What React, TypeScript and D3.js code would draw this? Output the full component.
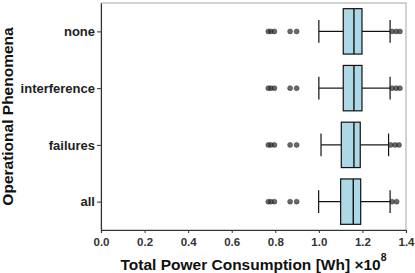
import React, { useEffect, useRef } from "react";
import * as d3 from "d3";

// categories top to bottom
const categories = ["none", "interference", "failures", "all"];
// box stats in units of 1e8 Wh
const whiskerLow = [1.0, 1.0, 1.01, 0.999];
const q1 = [1.112, 1.112, 1.103, 1.1];
const medians = [1.161, 1.161, 1.161, 1.158];
const q3 = [1.198, 1.198, 1.19, 1.192];
const whiskerHigh = [1.327, 1.327, 1.32, 1.327];
const outliers = [
  [0.768, 0.78, 0.796, 0.868, 0.898, 1.336, 1.355, 1.372],
  [0.768, 0.78, 0.796, 0.868, 0.898, 1.336, 1.355, 1.372],
  [0.768, 0.78, 0.796, 0.868, 0.898, 1.33, 1.35, 1.368],
  [0.768, 0.78, 0.796, 0.868, 0.898, 1.336, 1.357],
];
const xTicks = [0, 0.2, 0.4, 0.6, 0.8, 1.0, 1.2, 1.4];

const W = 415,
  H = 273;

const App = () => {
  const ref = useRef<SVGSVGElement>(null);

  useEffect(() => {
    const svg = d3.select(ref.current);
    svg.selectAll("*").remove();

    const left = 101,
      right = 406,
      top = 3,
      bottom = 230;
    const font = "'Liberation Sans', Arial, sans-serif";

    const x = d3.scaleLinear().domain([0, 1.4]).range([left, right]);
    const y = d3
      .scalePoint<string>()
      .domain(categories)
      .range([top, bottom])
      .padding(0.5);
    const boxH = y.step() * 0.8;
    const capH = y.step() * 0.4;

    // panel border
    svg
      .append("rect")
      .attr("x", left)
      .attr("y", top)
      .attr("width", right - left)
      .attr("height", bottom - top)
      .attr("fill", "none")
      .attr("stroke", "#a6a6a6")
      .attr("stroke-width", 1);

    const g = svg
      .selectAll("g.box")
      .data(categories)
      .join("g")
      .attr("class", "box");

    g.append("line")
      .attr("x1", (_, i) => x(whiskerLow[i]))
      .attr("x2", (_, i) => x(q1[i]))
      .attr("y1", (d) => y(d)!)
      .attr("y2", (d) => y(d)!)
      .attr("stroke", "#111")
      .attr("stroke-width", 1.2);
    g.append("line")
      .attr("x1", (_, i) => x(q3[i]))
      .attr("x2", (_, i) => x(whiskerHigh[i]))
      .attr("y1", (d) => y(d)!)
      .attr("y2", (d) => y(d)!)
      .attr("stroke", "#111")
      .attr("stroke-width", 1.2);
    // caps
    [whiskerLow, whiskerHigh].forEach((arr) => {
      g.append("line")
        .attr("x1", (_, i) => x(arr[i]))
        .attr("x2", (_, i) => x(arr[i]))
        .attr("y1", (d) => y(d)! - capH / 2)
        .attr("y2", (d) => y(d)! + capH / 2)
        .attr("stroke", "#111")
        .attr("stroke-width", 1.2);
    });
    g.append("rect")
      .attr("x", (_, i) => x(q1[i]))
      .attr("width", (_, i) => x(q3[i]) - x(q1[i]))
      .attr("y", (d) => y(d)! - boxH / 2)
      .attr("height", boxH)
      .attr("fill", "#add8e6")
      .attr("stroke", "#111")
      .attr("stroke-width", 1.2);
    g.append("line")
      .attr("x1", (_, i) => x(medians[i]))
      .attr("x2", (_, i) => x(medians[i]))
      .attr("y1", (d) => y(d)! - boxH / 2)
      .attr("y2", (d) => y(d)! + boxH / 2)
      .attr("stroke", "#111")
      .attr("stroke-width", 1.4);
    g.each(function (d, i) {
      d3.select(this)
        .selectAll("circle")
        .data(outliers[i])
        .join("circle")
        .attr("cx", (v) => x(v))
        .attr("cy", y(d)!)
        .attr("r", 2.5)
        .attr("fill", "#2a2a2a")
        .attr("fill-opacity", 0.7)
        .attr("stroke", "#2a2a2a")
        .attr("stroke-opacity", 0.7)
        .attr("stroke-width", 0.6);
    });

    // x axis
    const xAxis = svg
      .append("g")
      .attr("transform", `translate(0,${bottom})`)
      .call(d3.axisBottom(x).tickValues(xTicks).tickSize(3).tickFormat(d3.format(".1f")));
    xAxis.select(".domain").attr("stroke", "#333").attr("stroke-width", 1.1);
    xAxis.selectAll(".tick line").attr("stroke", "#333");
    xAxis
      .selectAll(".tick text")
      .attr("font-family", font)
      .attr("font-weight", "bold")
      .attr("font-size", 11.5)
      .attr("fill", "#333")
      .attr("dy", "0.9em");

    // y axis
    const yAxis = svg
      .append("g")
      .attr("transform", `translate(${left},0)`)
      .call(d3.axisLeft(y).tickSize(4).tickSizeOuter(0));
    yAxis.select(".domain").attr("stroke", "#333").attr("stroke-width", 1.1);
    yAxis.selectAll(".tick line").attr("stroke", "#333");
    yAxis
      .selectAll(".tick text")
      .attr("font-family", font)
      .attr("font-weight", "bold")
      .attr("font-size", 13)
      .attr("fill", "#222")
      .attr("x", -6);

    // axis titles
    const xt = svg
      .append("text")
      .attr("x", (left + right) / 2)
      .attr("y", 270)
      .attr("text-anchor", "middle")
      .attr("font-family", font)
      .attr("font-weight", "bold")
      .attr("font-size", 15.5)
      .attr("fill", "#111");
    xt.append("tspan").text("Total Power Consumption [Wh] \u00d710");
    xt.append("tspan").attr("dy", -9).attr("font-size", 10.5).text("8");

    svg
      .append("text")
      .attr("transform", `translate(13,${(top + bottom) / 2}) rotate(-90)`)
      .attr("text-anchor", "middle")
      .attr("font-family", font)
      .attr("font-weight", "bold")
      .attr("font-size", 15.5)
      .attr("fill", "#111")
      .text("Operational Phenomena");
  }, []);

  return (
    <div style={{ position: "absolute", left: 0, top: 0 }}>
      <svg ref={ref} width={W} height={H} style={{ display: "block" }} />
    </div>
  );
};

export default App;
